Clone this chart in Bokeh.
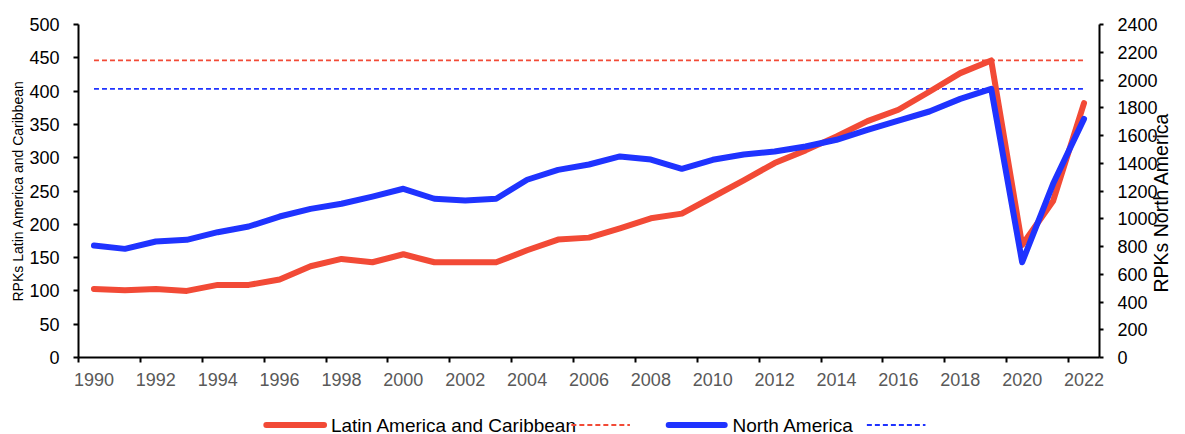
import math
from bokeh.plotting import figure
from bokeh.layouts import column
from bokeh.models import Range1d, LinearAxis, FixedTicker
from bokeh.core.properties import value
from bokeh.embed import file_html
from bokeh.resources import INLINE

# ---- data ----
years = list(range(1990, 2023))
lac_rpk = [103, 101, 103, 100, 109, 109, 117, 137, 148, 143, 155, 143, 143, 143, 161,
           177, 180, 194, 209, 216, 241, 266, 292, 311, 332, 355, 372, 399, 427, 446,
           169, 235, 382]
na_rpk = [807, 783, 836, 848, 903, 944, 1016, 1071, 1108, 1160, 1216, 1144, 1131, 1144, 1281,
          1352, 1391, 1449, 1427, 1360, 1425, 1463, 1485, 1521, 1569, 1641, 1708, 1773, 1864, 1936,
          687, 1252, 1720]
lac_precovid = 446
na_precovid = 1936

left_ticks = [0, 50, 100, 150, 200, 250, 300, 350, 400, 450, 500]
right_ticks = [0, 200, 400, 600, 800, 1000, 1200, 1400, 1600, 1800, 2000, 2200, 2400]
x_tick_years = [1990, 1992, 1994, 1996, 1998, 2000, 2002, 2004, 2006, 2008, 2010,
                2012, 2014, 2016, 2018, 2020, 2022]

series_names = ["Latin America and Caribbean", "North America"]
RED = "#F24A36"
BLUE = "#1F33FF"
FONT = "Liberation Sans"

p = figure(width=1185, height=394,
           x_range=Range1d(1989.5, 2022.5), y_range=Range1d(0, 500),
           output_backend="svg", toolbar_location=None, title=None,
           min_border_left=78, min_border_right=83, min_border_top=24, min_border_bottom=37,
           outline_line_color=None, background_fill_color="white", border_fill_color="white")
p.xgrid.visible = False
p.ygrid.visible = False
p.extra_y_ranges = {"na": Range1d(0, 2400)}

# dashed reference levels
p.segment(x0=[years[0]], y0=[lac_precovid], x1=[years[-1]], y1=[lac_precovid],
          line_color=RED, line_width=1.8, line_dash="5 3")
p.segment(x0=[years[0]], y0=[na_precovid], x1=[years[-1]], y1=[na_precovid],
          line_color=BLUE, line_width=1.8, line_dash="5 3", y_range_name="na")

# main lines
p.line(years, lac_rpk, line_color=RED, line_width=6, line_cap="round", line_join="round")
p.line(years, na_rpk, line_color=BLUE, line_width=6, line_cap="round", line_join="round",
       y_range_name="na")

# left axis
ya = p.yaxis[0]
ya.ticker = FixedTicker(ticks=left_ticks)
ya.axis_label = "RPKs Latin America and Caribbean"
ya.axis_label_text_font = FONT
ya.axis_label_text_font_size = "14px"
ya.axis_label_text_font_style = "normal"
ya.axis_label_text_color = "black"
ya.axis_label_standoff = 0
ya.major_label_text_font = FONT
ya.major_label_text_font_size = "18px"
ya.major_label_text_color = "black"
ya.major_label_standoff = 14
ya.major_tick_out = 5
ya.major_tick_in = 0
ya.minor_tick_out = 0
ya.minor_tick_in = 0
ya.axis_line_width = 2
ya.major_tick_line_width = 2
ya.axis_line_color = "black"
ya.major_tick_line_color = "black"

# right axis
NBSP = "\u00a0"
ra = LinearAxis(y_range_name="na", ticker=FixedTicker(ticks=right_ticks),
                axis_label=NBSP * 12 + "RPKs North America")
ra.axis_label_text_font = FONT
ra.axis_label_text_font_size = "19.5px"
ra.axis_label_text_font_style = "normal"
ra.axis_label_text_color = "black"
ra.axis_label_standoff = 0
ra.axis_label_orientation = math.pi / 2
ra.axis_label_align = "start"
ra.major_label_text_font = FONT
ra.major_label_text_font_size = "18px"
ra.major_label_text_color = "black"
ra.major_label_standoff = 14
ra.major_tick_out = 4
ra.major_tick_in = 0
ra.minor_tick_out = 0
ra.minor_tick_in = 0
ra.axis_line_width = 2
ra.major_tick_line_width = 2
ra.axis_line_color = "black"
ra.major_tick_line_color = "black"
p.add_layout(ra, "right")

# bottom axis: labels at years, tick marks between categories
xa = p.xaxis[0]
xa.ticker = FixedTicker(ticks=x_tick_years, minor_ticks=[y - 0.5 for y in x_tick_years])
xa.major_label_text_font = FONT
xa.major_label_text_font_size = "18px"
xa.major_label_text_color = "#595959"
xa.major_label_standoff = 10
xa.major_tick_out = 0
xa.major_tick_in = 0
xa.minor_tick_out = 5
xa.minor_tick_in = 0
xa.minor_tick_line_width = 2
xa.minor_tick_line_color = "black"
xa.axis_line_width = 2
xa.axis_line_color = "black"

# ---- legend strip: a small figure whose data units are pixels ----
lg = figure(width=1185, height=40, x_range=Range1d(0, 1185), y_range=Range1d(0, 40),
            output_backend="svg", toolbar_location=None, title=None,
            x_axis_type=None, y_axis_type=None, min_border=0,
            outline_line_color=None, background_fill_color="white", border_fill_color="white")
lg.xgrid.visible = False
lg.ygrid.visible = False
LY = 9.5
lg.segment(x0=[218], y0=[LY], x1=[285], y1=[LY], line_color=RED, line_width=6, line_cap="round")
lg.text(x=[293], y=[LY], text=[series_names[0]], text_font=value(FONT),
        text_font_size=value("19px"), text_color="black",
        text_align="left", text_baseline="middle")
lg.segment(x0=[572], y0=[LY], x1=[640], y1=[LY], line_color=RED, line_width=1.8, line_dash="5 3")
lg.segment(x0=[685], y0=[LY], x1=[750], y1=[LY], line_color=BLUE, line_width=6, line_cap="round")
lg.text(x=[759], y=[LY], text=[series_names[1]], text_font=value(FONT),
        text_font_size=value("19px"), text_color="black",
        text_align="left", text_baseline="middle")
lg.segment(x0=[915], y0=[LY], x1=[983], y1=[LY], line_color=BLUE, line_width=1.8, line_dash="5 3")

open("out.html", "w").write(file_html(column(p, lg, spacing=0), INLINE))
